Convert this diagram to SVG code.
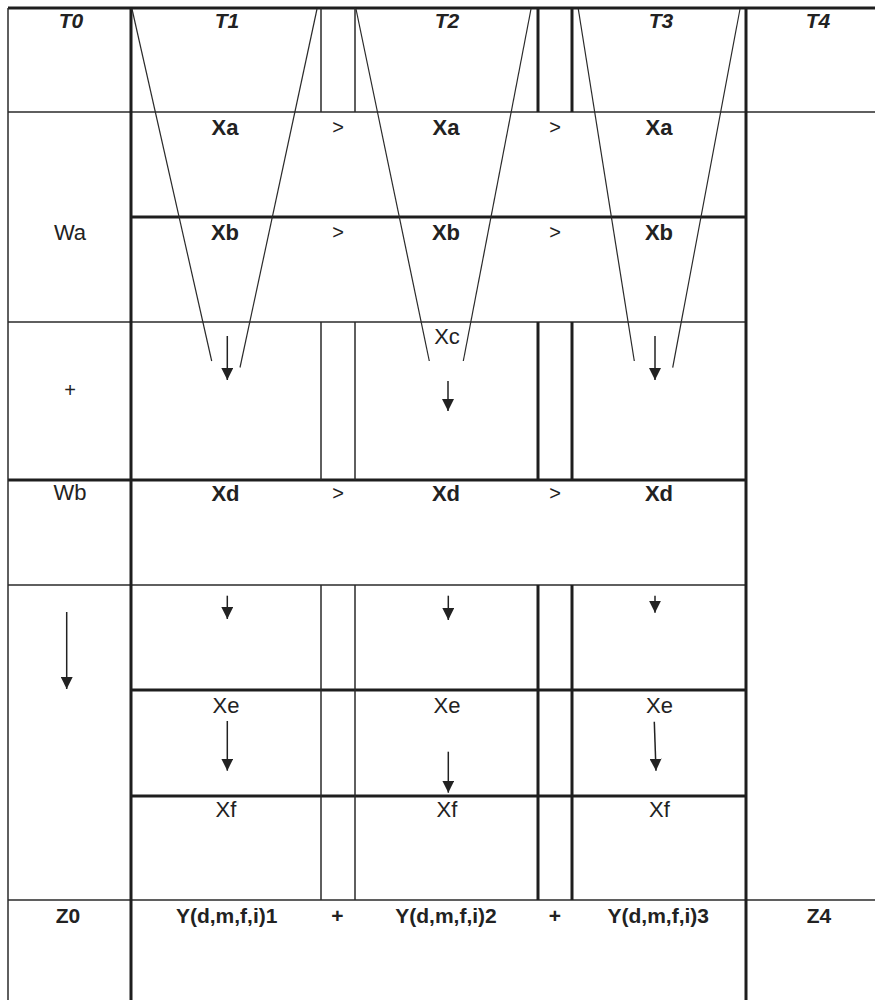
<svg xmlns="http://www.w3.org/2000/svg" width="875" height="1000" viewBox="0 0 875 1000">
  <style>
    .thin { stroke: #2a2a2a; stroke-width: 1.5; fill: none; }
    .thick { stroke: #1e1e1e; stroke-width: 3; fill: none; }
    .funnel { stroke: #2a2a2a; stroke-width: 1.2; fill: none; }
    .arrow { stroke: #222; stroke-width: 1.5; fill: none; marker-end: url(#ah); }
    text { font-family: "Liberation Sans", Arial, sans-serif; fill: #222; text-anchor: middle; }
    .hdr { font-size: 21px; font-weight: bold; font-style: italic; }
    .b { font-size: 22px; font-weight: bold; }
    .r { font-size: 22px; }
    .gt { font-size: 20px; }
    .bot { font-size: 21px; font-weight: bold; }
  </style>
  <defs>
    <marker id="ah" viewBox="0 0 12 12" refX="12" refY="6" markerWidth="12" markerHeight="12" markerUnits="userSpaceOnUse" orient="auto">
      <path d="M0,0 L12,6 L0,12 z" fill="#222"/>
    </marker>
  </defs>
  <rect x="0" y="0" width="875" height="1000" fill="#ffffff"/>

  <g id="grid">
    <!-- horizontal lines -->
    <line class="thick" x1="8" y1="8" x2="875" y2="8"/>
    <line class="thin" x1="8" y1="112" x2="875" y2="112"/>
    <line class="thick" x1="131" y1="217" x2="746" y2="217"/>
    <line class="thin" x1="8" y1="322" x2="746" y2="322"/>
    <line class="thick" x1="8" y1="480" x2="746" y2="480"/>
    <line class="thin" x1="8" y1="585" x2="746" y2="585"/>
    <line class="thick" x1="131" y1="690" x2="746" y2="690"/>
    <line class="thick" x1="131" y1="796" x2="746" y2="796"/>
    <line class="thin" x1="8" y1="900" x2="875" y2="900"/>
    <!-- vertical lines -->
    <line class="thin" x1="8" y1="8" x2="8" y2="1000"/>
    <line class="thick" x1="131" y1="8" x2="131" y2="1000"/>
    <line class="thick" x1="746" y1="8" x2="746" y2="1000"/>
    <line class="thin" x1="321" y1="8" x2="321" y2="112"/>
    <line class="thin" x1="355" y1="8" x2="355" y2="112"/>
    <line class="thick" x1="538" y1="8" x2="538" y2="112"/>
    <line class="thick" x1="572" y1="8" x2="572" y2="112"/>
    <line class="thin" x1="321" y1="322" x2="321" y2="480"/>
    <line class="thin" x1="355" y1="322" x2="355" y2="480"/>
    <line class="thick" x1="538" y1="322" x2="538" y2="480"/>
    <line class="thick" x1="572" y1="322" x2="572" y2="480"/>
    <line class="thin" x1="321" y1="585" x2="321" y2="900"/>
    <line class="thin" x1="355" y1="585" x2="355" y2="900"/>
    <line class="thick" x1="538" y1="585" x2="538" y2="900"/>
    <line class="thick" x1="572" y1="585" x2="572" y2="900"/>
  </g>

  <g id="funnels">
    <line class="funnel" x1="132" y1="9" x2="211.7" y2="361"/>
    <line class="funnel" x1="317" y1="9" x2="240" y2="367.5"/>
    <line class="funnel" x1="356" y1="9" x2="429.3" y2="361"/>
    <line class="funnel" x1="531" y1="9" x2="463.3" y2="361"/>
    <line class="funnel" x1="578.3" y1="9" x2="634.3" y2="361"/>
    <line class="funnel" x1="740" y1="9" x2="672.7" y2="367.7"/>
  </g>

  <g id="connectors">
    <line class="arrow" x1="227.3" y1="336" x2="227.3" y2="380"/>
    <line class="arrow" x1="448" y1="381" x2="448" y2="411"/>
    <line class="arrow" x1="655" y1="336" x2="655" y2="380"/>
    <line class="arrow" x1="66.7" y1="612" x2="66.7" y2="689"/>
    <line class="arrow" x1="227.3" y1="595.7" x2="227.3" y2="619"/>
    <line class="arrow" x1="448.3" y1="595.7" x2="448.3" y2="620"/>
    <line class="arrow" x1="655" y1="595.7" x2="655" y2="612.7"/>
    <line class="arrow" x1="227.3" y1="721" x2="227.3" y2="770.7"/>
    <line class="arrow" x1="448.3" y1="751.7" x2="448.3" y2="792.7"/>
    <line class="arrow" x1="654.3" y1="721.7" x2="656" y2="770.7"/>
  </g>

  <g id="header">
    <text class="hdr" x="71" y="28">T0</text>
    <text class="hdr" x="227" y="28">T1</text>
    <text class="hdr" x="447" y="28">T2</text>
    <text class="hdr" x="661" y="28">T3</text>
    <text class="hdr" x="818" y="28">T4</text>
  </g>

  <g id="row-xa">
    <text class="b" x="225" y="134.5">Xa</text>
    <text class="gt" x="338" y="134">&gt;</text>
    <text class="b" x="446" y="134.5">Xa</text>
    <text class="gt" x="555" y="134">&gt;</text>
    <text class="b" x="659" y="134.5">Xa</text>
  </g>

  <g id="row-xb">
    <text class="r" x="70" y="240">Wa</text>
    <text class="b" x="225" y="239.5">Xb</text>
    <text class="gt" x="338" y="239">&gt;</text>
    <text class="b" x="446" y="239.5">Xb</text>
    <text class="gt" x="555" y="239">&gt;</text>
    <text class="b" x="659" y="239.5">Xb</text>
  </g>

  <g id="row-xc">
    <text class="gt" x="70" y="397">+</text>
    <text class="r" x="447" y="344">Xc</text>
  </g>

  <g id="row-xd">
    <text class="r" x="70" y="500">Wb</text>
    <text class="b" x="225.5" y="500.5">Xd</text>
    <text class="gt" x="338" y="500">&gt;</text>
    <text class="b" x="446" y="500.5">Xd</text>
    <text class="gt" x="555" y="500">&gt;</text>
    <text class="b" x="659" y="500.5">Xd</text>
  </g>

  <g id="row-xe">
    <text class="r" x="226" y="712.5">Xe</text>
    <text class="r" x="447" y="712.5">Xe</text>
    <text class="r" x="659.5" y="712.5">Xe</text>
  </g>

  <g id="row-xf">
    <text class="r" x="226" y="816.5">Xf</text>
    <text class="r" x="447" y="816.5">Xf</text>
    <text class="r" x="659.5" y="816.5">Xf</text>
  </g>

  <g id="row-bottom">
    <text class="bot" x="68" y="923">Z0</text>
    <text class="bot" x="226.7" y="923">Y(d,m,f,i)1</text>
    <text class="bot" x="337.5" y="923">+</text>
    <text class="bot" x="446" y="923">Y(d,m,f,i)2</text>
    <text class="bot" x="555" y="923">+</text>
    <text class="bot" x="658.3" y="923">Y(d,m,f,i)3</text>
    <text class="bot" x="819" y="923">Z4</text>
  </g>
</svg>
